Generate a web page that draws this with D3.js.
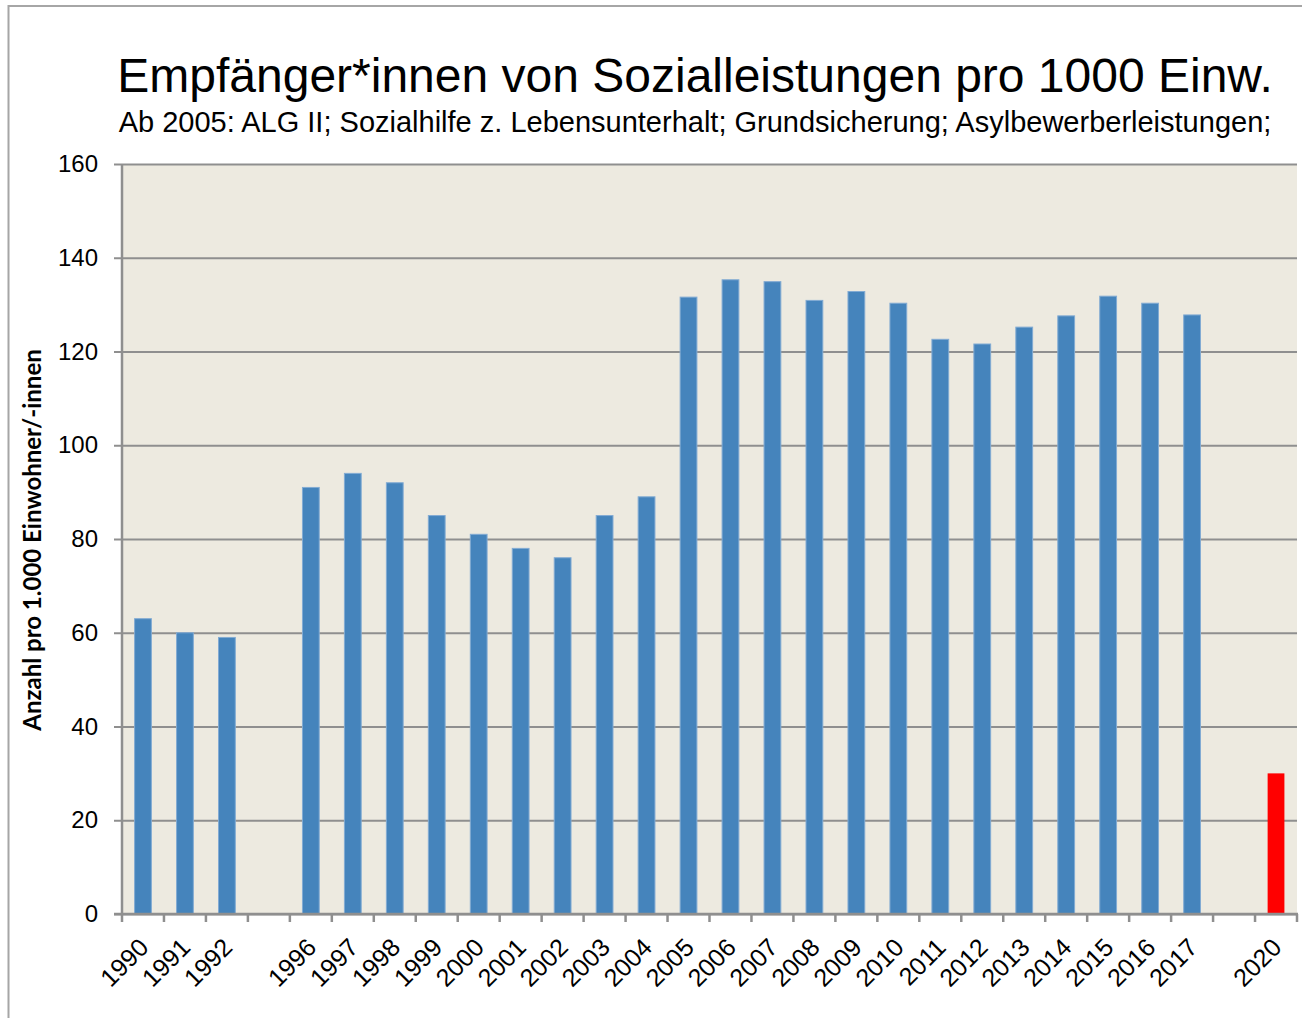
<!DOCTYPE html>
<html>
<head>
<meta charset="utf-8">
<script src="https://cdn.jsdelivr.net/npm/d3@7"></script>
<style>
  html, body { margin: 0; padding: 0; background: #ffffff; }
  svg { display: block; }
</style>
</head>
<body>
<div id="chart"></div>
<script>
// Year slots along the category axis; empty strings mark unlabelled gap slots.
const years = ["1990", "1991", "1992", "", "1996", "1997", "1998", "1999", "2000",
  "2001", "2002", "2003", "2004", "2005", "2006", "2007", "2008", "2009", "2010",
  "2011", "2012", "2013", "2014", "2015", "2016", "2017", "", "2020"];

// Recipients per 1000 inhabitants (null = no value for the slot).
const recipients = [63, 60, 59, null, 91, 94, 92, 85, 81,
  78, 76, 85, 89, 131.6, 135.3, 134.9, 130.9, 132.8, 130.3,
  122.6, 121.6, 125.2, 127.6, 131.8, 130.3, 127.8, null, null];

// Target value shown as a separate red bar.
const target = [null, null, null, null, null, null, null, null, null,
  null, null, null, null, null, null, null, null, null, null,
  null, null, null, null, null, null, null, null, 30];

const yTicks = [0, 20, 40, 60, 80, 100, 120, 140, 160];

const titleText = "Empfänger*innen von Sozialleistungen pro 1000 Einw.";
const subtitleText = "Ab 2005: ALG II; Sozialhilfe z. Lebensunterhalt; Grundsicherung; Asylbewerberleistungen;";
const yAxisTitle = "Anzahl pro 1.000 Einwohner/-innen";

const W = 1302, H = 1018;
const plot = { left: 122, right: 1297, top: 164, bottom: 914 };

const slots = years.map((y, i) => ({ key: "s" + i, label: y, value: recipients[i], goal: target[i] }));

const svg = d3.select("#chart").append("svg")
  .attr("width", W).attr("height", H)
  .style("font-family", "'Liberation Sans', Arial, sans-serif");

// outer frame
svg.append("rect")
  .attr("x", 8.5).attr("y", 6).attr("width", W + 20).attr("height", H + 20)
  .attr("fill", "#ffffff").attr("stroke", "#a6a6a6").attr("stroke-width", 2);

const x = d3.scaleBand()
  .domain(slots.map(d => d.key))
  .range([plot.left, plot.right])
  .paddingInner(0).paddingOuter(0);

const y = d3.scaleLinear()
  .domain([0, 160])
  .range([plot.bottom, plot.top]);

// plot area background
svg.append("rect")
  .attr("x", plot.left).attr("y", plot.top)
  .attr("width", plot.right - plot.left).attr("height", plot.bottom - plot.top)
  .attr("fill", "#edeae0");

// horizontal gridlines with left tick marks
const yAxis = d3.axisLeft(y)
  .tickValues(yTicks)
  .tickSize(-(plot.right - plot.left))
  .tickPadding(24)
  .tickFormat(d3.format("d"));

const gy = svg.append("g")
  .attr("transform", `translate(${plot.left},0)`)
  .call(yAxis);
gy.select(".domain").remove();
gy.selectAll(".tick line")
  .attr("x1", -8)
  .attr("stroke", "#8f8f8f").attr("stroke-width", 2);
gy.selectAll(".tick text")
  .attr("fill", "#000")
  .style("font-size", "24px")
  .style("font-family", "'Liberation Sans', Arial, sans-serif");

// bars
const barW = x.bandwidth() * 0.4;
svg.append("g").selectAll("rect.bar")
  .data(slots.filter(d => d.value != null))
  .join("rect")
  .attr("class", "bar")
  .attr("x", d => x(d.key) + (x.bandwidth() - barW) / 2)
  .attr("y", d => y(d.value))
  .attr("width", barW)
  .attr("height", d => y(0) - y(d.value))
  .attr("fill", "#4584bc")
  .attr("stroke", "#82abd3")
  .attr("stroke-width", 1);

svg.append("g").selectAll("rect.goal")
  .data(slots.filter(d => d.goal != null))
  .join("rect")
  .attr("class", "goal")
  .attr("x", d => x(d.key) + (x.bandwidth() - barW) / 2)
  .attr("y", d => y(d.goal))
  .attr("width", barW)
  .attr("height", d => y(0) - y(d.goal))
  .attr("fill", "#ff0000");

// axis lines
svg.append("line")
  .attr("x1", plot.left).attr("x2", plot.left)
  .attr("y1", plot.top).attr("y2", plot.bottom)
  .attr("stroke", "#8f8f8f").attr("stroke-width", 2.5);

svg.append("line")
  .attr("x1", plot.left - 8).attr("x2", plot.right + 1)
  .attr("y1", plot.bottom).attr("y2", plot.bottom)
  .attr("stroke", "#8f8f8f").attr("stroke-width", 2.5);

// category boundary ticks
const bounds = slots.map(d => x(d.key)).concat([x.range()[1]]);
svg.append("g").selectAll("line.xt")
  .data(bounds)
  .join("line")
  .attr("x1", d => d).attr("x2", d => d)
  .attr("y1", plot.bottom).attr("y2", plot.bottom + 8)
  .attr("stroke", "#8f8f8f").attr("stroke-width", 2.5);

// rotated year labels
svg.append("g").selectAll("text.xl")
  .data(slots.filter(d => d.label !== ""))
  .join("text")
  .attr("class", "xl")
  .attr("transform", d => `translate(${x(d.key) + x.bandwidth() / 2 + 7},${plot.bottom + 35}) rotate(-45)`)
  .attr("text-anchor", "end")
  .attr("fill", "#000")
  .style("font-size", "25px")
  .text(d => d.label);

// titles
svg.append("text")
  .attr("x", 695).attr("y", 92)
  .attr("text-anchor", "middle")
  .attr("fill", "#000")
  .style("font-size", "48px")
  .text(titleText);

svg.append("text")
  .attr("x", 695).attr("y", 132)
  .attr("text-anchor", "middle")
  .attr("fill", "#000")
  .style("font-size", "29px")
  .text(subtitleText);

svg.append("text")
  .attr("transform", "translate(41,540) rotate(-90)")
  .attr("text-anchor", "middle")
  .attr("fill", "#000")
  .style("font-family", "Lato, 'Open Sans', sans-serif")
  .style("font-weight", "bold")
  .style("font-size", "24px")
  .text(yAxisTitle);
</script>
</body>
</html>
